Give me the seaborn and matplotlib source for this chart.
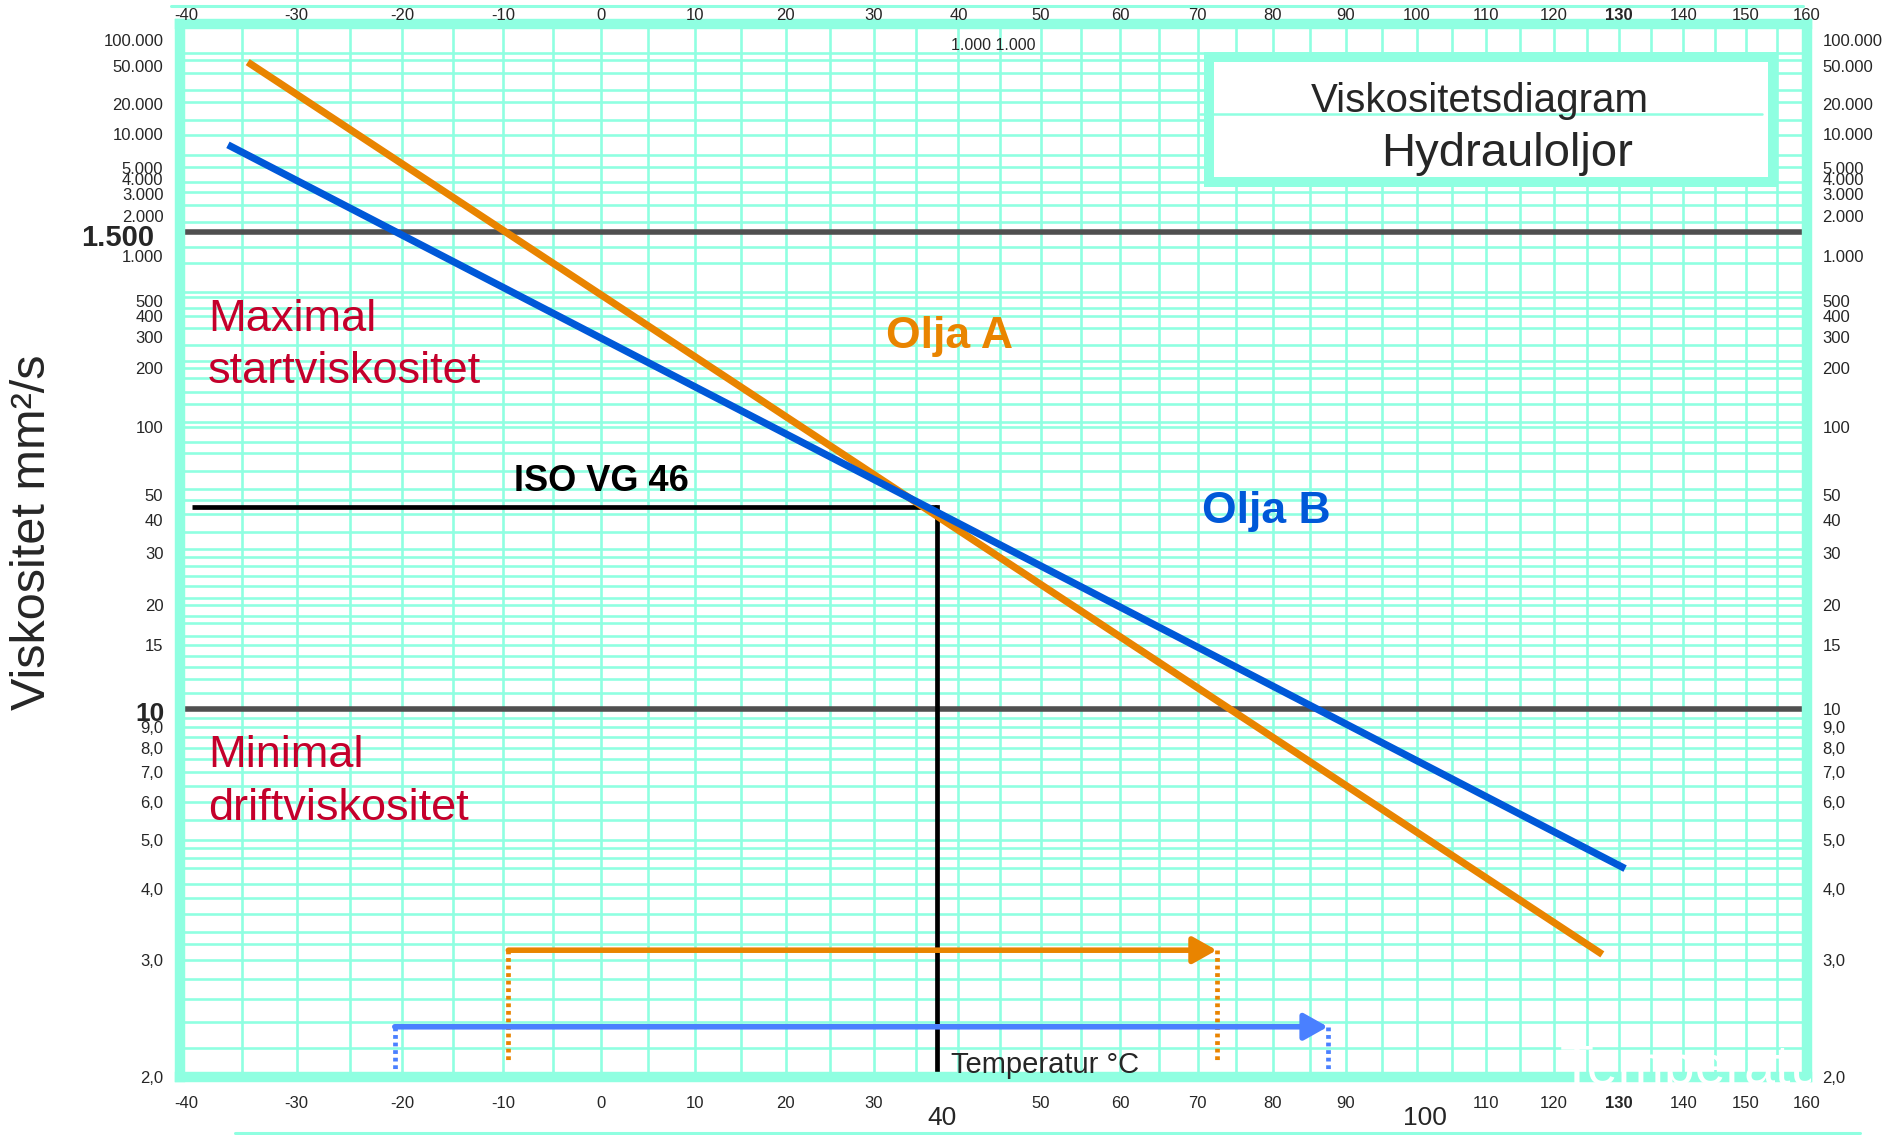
import numpy as np
import pandas as pd
import matplotlib
matplotlib.use("Agg")
import matplotlib.pyplot as plt
import seaborn as sns
from matplotlib.patches import Rectangle
from matplotlib.lines import Line2D
from matplotlib.transforms import Bbox, TransformedBbox

# --- data ---
olja_a_temp = [-34.5, 127.4]
olja_a_visc = [55700, 3.07]
olja_b_temp = [-36.3, 130.9]
olja_b_visc = [8000, 4.38]

iso_start_temp = -39.5
iso_temp = 37.4
iso_visc = 45
max_start_visc = 1500
min_drift_visc = 10

range_a_temp = [-9.5, 72.5]
range_a_level = 3.12
range_a_drop = 2.1
range_b_temp = [-20.7, 87.5]
range_b_level = 2.36
range_b_drop = 2.0

visc_ticks = [100000, 50000, 20000, 10000, 5000, 4000, 3000, 2000, 1500, 1000,
              500, 400, 300, 200, 100, 50, 40, 30, 20, 15, 10,
              9, 8, 7, 6, 5, 4, 3, 2]
visc_labels = ["100.000", "50.000", "20.000", "10.000", "5.000", "4.000", "3.000",
               "2.000", "1.500", "1.000", "500", "400", "300", "200", "100", "50",
               "40", "30", "20", "15", "10", "9,0", "8,0", "7,0", "6,0", "5,0",
               "4,0", "3,0", "2,0"]
temp_ticks = list(range(-40, 161, 10))
temp_labels = [str(t) for t in temp_ticks]

# grid of the printed chart paper
grid_temp = list(range(-35, 160, 5))
grid_visc = [2.2, 2.4, 2.6, 2.8, 3.0, 3.2, 3.35, 3.6, 3.85, 4.1, 4.4, 4.6, 4.8, 5.0,
             5.5, 6.0, 6.5, 7.0, 7.5, 8.0, 8.5, 9.0, 9.5, 10, 11, 12, 13, 14, 15, 16,
             17.5, 18.5, 20, 21, 23, 25, 27, 29, 31, 36, 42, 48, 53, 63, 76, 85, 100,
             106, 130, 150, 177, 200, 220, 270, 340, 400, 450, 530, 570, 900, 1165,
             1790, 2440, 3110, 3770, 5070, 6480, 9900, 13800, 20800, 27700, 42200,
             58800, 70700]

AQUA = "#8fffe1"
ORANGE = "#e98400"
BLUE = "#0058d8"
BLUE_ARROW = "#4a80ff"
CRIMSON = "#c4002b"
GREY = "#4f4f4f"


# temperature axis: log of absolute temperature, viscosity axis: Walther (log log)
def t_fwd(t):
    with np.errstate(all="ignore"):
        return np.log10(np.asarray(t, float) + 273.15)


def t_inv(x):
    with np.errstate(all="ignore"):
        return 10 ** np.asarray(x, float) - 273.15


def v_fwd(v):
    with np.errstate(all="ignore"):
        return np.log10(np.log10(np.asarray(v, float) + 0.7))


def v_inv(w):
    with np.errstate(all="ignore"):
        return 10 ** (10 ** np.asarray(w, float)) - 0.7


sns.set_style("white")
plt.rcParams["font.family"] = ["Liberation Sans", "DejaVu Sans"]

W, H = 1888, 1135
fig = plt.figure(figsize=(W / 100, H / 100), dpi=100)


def fx(x):
    return x / W


def fy(y):
    return 1 - y / H


ax = fig.add_axes([fx(180), fy(1077), (1807 - 180) / W, (1077 - 24) / H])
XLIM = (-40.6, 159.4)
YLIM = (2.0, 156000)
ax.set_xscale("function", functions=(t_fwd, t_inv))
ax.set_yscale("function", functions=(v_fwd, v_inv))

oils = pd.DataFrame({
    "olja": ["Olja A"] * len(olja_a_temp) + ["Olja B"] * len(olja_b_temp),
    "temp": olja_a_temp + olja_b_temp,
    "visc": olja_a_visc + olja_b_visc,
})
sns.lineplot(data=oils, x="temp", y="visc", hue="olja",
             palette={"Olja A": ORANGE, "Olja B": BLUE}, estimator=None,
             sort=False, legend=False, linewidth=5.2, solid_capstyle="butt",
             zorder=6, ax=ax)

ax.set_xlim(*XLIM)
ax.set_ylim(*YLIM)

# limit lines
ax.axhline(max_start_visc, color=GREY, lw=4, zorder=4)
ax.axhline(min_drift_visc, color=GREY, lw=4, zorder=4)

# ISO VG 46 reference
ax.plot([iso_start_temp, iso_temp], [iso_visc, iso_visc], color="black", lw=3.4,
        solid_capstyle="butt", zorder=5)
ax.plot([iso_temp, iso_temp], [iso_visc, YLIM[0]], color="black", lw=3.4,
        solid_capstyle="projecting", zorder=5)

# operating ranges
for temps, level, drop, col in [(range_a_temp, range_a_level, range_a_drop, ORANGE),
                                (range_b_temp, range_b_level, range_b_drop, BLUE_ARROW)]:
    ax.annotate("", xy=(temps[1], level), xytext=(temps[0], level),
                arrowprops=dict(arrowstyle="-|>,head_length=0.8,head_width=0.45",
                                color=col, lw=4, shrinkA=0, shrinkB=0,
                                mutation_scale=18), zorder=5)
    for t in temps:
        ax.plot([t, t], [level, drop], color=col, lw=3.4, ls=(0, (0.8, 0.8)), zorder=5)

# chart paper grid
ax.xaxis.remove_overlapping_locs = False
ax.yaxis.remove_overlapping_locs = False
ax.set_xticks(grid_temp, minor=True)
ax.set_yticks(grid_visc, minor=True)
ax.grid(which="minor", color=AQUA, lw=1.9)
ax.set_axisbelow(True)
for s in ax.spines.values():
    s.set_color(AQUA)
    s.set_linewidth(7.5)
    s.set_zorder(7)

# bottom / left tick labels (the bold limit values are placed separately below)
bottom_labels = ["" if t in (40, 100) else l for t, l in zip(temp_ticks, temp_labels)]
left_labels = ["" if v in (max_start_visc, min_drift_visc) else l
               for v, l in zip(visc_ticks, visc_labels)]
ax.set_xticks(temp_ticks, bottom_labels)
ax.set_yticks(visc_ticks, left_labels)
ax.tick_params(which="both", length=0)
ax.tick_params(axis="x", pad=14, labelsize=12)
ax.tick_params(axis="y", pad=12, labelsize=12)
for lbl in ax.get_xticklabels():
    if lbl.get_text() == "130":
        lbl.set_fontweight("bold")
ax.set_xlabel("")
ax.set_ylabel("")

# right tick labels
ax_r = ax.twinx()
ax_r.set_yscale("function", functions=(v_fwd, v_inv))
ax_r.set_ylim(*YLIM)
right = [(v, l) for v, l in zip(visc_ticks, visc_labels) if v != max_start_visc]
ax_r.set_yticks([v for v, _ in right], [l for _, l in right])
ax_r.tick_params(length=0, pad=11, labelsize=12)
for s in ax_r.spines.values():
    s.set_visible(False)

# top tick labels
ax_t = ax.twiny()
ax_t.set_xscale("function", functions=(t_fwd, t_inv))
ax_t.set_xlim(*XLIM)
ax_t.set_xticks(temp_ticks, temp_labels)
ax_t.tick_params(length=0, pad=1.0, labelsize=12)
for lbl in ax_t.get_xticklabels():
    if lbl.get_text() == "130":
        lbl.set_fontweight("bold")
for s in ax_t.spines.values():
    s.set_visible(False)

# bold limit labels on the left side
fig.text(fx(154), fy(238), "1.500", fontsize=21, fontweight="bold", ha="right",
         va="center")
fig.text(fx(165), fy(714), "10", fontsize=19, fontweight="bold", ha="right",
         va="center")

# texts
fig.text(fx(33), fy(532), "Viskositet mm²/s", rotation=90, ha="center", va="center",
         fontsize=35)
fig.text(fx(208), fy(331), "Maximal", color=CRIMSON, fontsize=32.5, va="baseline")
fig.text(fx(208), fy(383), "startviskositet", color=CRIMSON, fontsize=32.5, va="baseline")
fig.text(fx(208), fy(767), "Minimal", color=CRIMSON, fontsize=32.5, va="baseline")
fig.text(fx(208), fy(820), "driftviskositet", color=CRIMSON, fontsize=32.5, va="baseline")
fig.text(fx(949), fy(348), "Olja A", color=ORANGE, fontsize=32, fontweight="bold",
         ha="center", va="baseline")
fig.text(fx(1266), fy(523), "Olja B", color=BLUE, fontsize=32, fontweight="bold",
         ha="center", va="baseline")
fig.text(fx(601), fy(491), "ISO VG 46", color="black", fontsize=26, fontweight="bold",
         ha="center", va="baseline")
fig.text(fx(951), fy(1073), "Temperatur °C", fontsize=21, va="baseline")
fig.text(fx(951), fy(50), "1.000 1.000", fontsize=11.5, va="baseline")
fig.text(fx(942), fy(1125), "40", fontsize=19, ha="center", va="baseline")
fig.text(fx(1425), fy(1125), "100", fontsize=19, ha="center", va="baseline")

# faint white caption that is cut off by the right frame
ghost = fig.text(fx(1560), fy(1084), "Temperatur", color="white", fontsize=40,
                 va="baseline", zorder=8)
ghost.set_clip_box(TransformedBbox(Bbox([[0, 0], [fx(1811), 1]]), fig.transFigure))
ghost.set_clip_on(True)

# title box
fig.add_artist(Rectangle((fx(1209), fy(182)), (1773 - 1209) / W, (182 - 57) / H,
                         transform=fig.transFigure, facecolor="white", edgecolor=AQUA,
                         lw=7.2, zorder=6))
fig.add_artist(Line2D([fx(1200), fx(1762)], [fy(114), fy(114)], color=AQUA, lw=1.8,
                      transform=fig.transFigure, zorder=6.5))
fig.text(fx(1480), fy(112), "Viskositetsdiagram", fontsize=29, ha="center",
         va="baseline", zorder=7)
fig.text(fx(1507), fy(166), "Hydrauloljor", fontsize=34, ha="center", va="baseline",
         zorder=7)

# thin decorative rules above and below the chart
fig.add_artist(Line2D([fx(171), fx(1803)], [fy(6), fy(6)], color=AQUA, lw=2.2,
                      transform=fig.transFigure))
fig.add_artist(Line2D([fx(235), fx(1860)], [fy(1133), fy(1133)], color=AQUA, lw=2.2,
                      transform=fig.transFigure))

fig.savefig("out.png", dpi=100)
